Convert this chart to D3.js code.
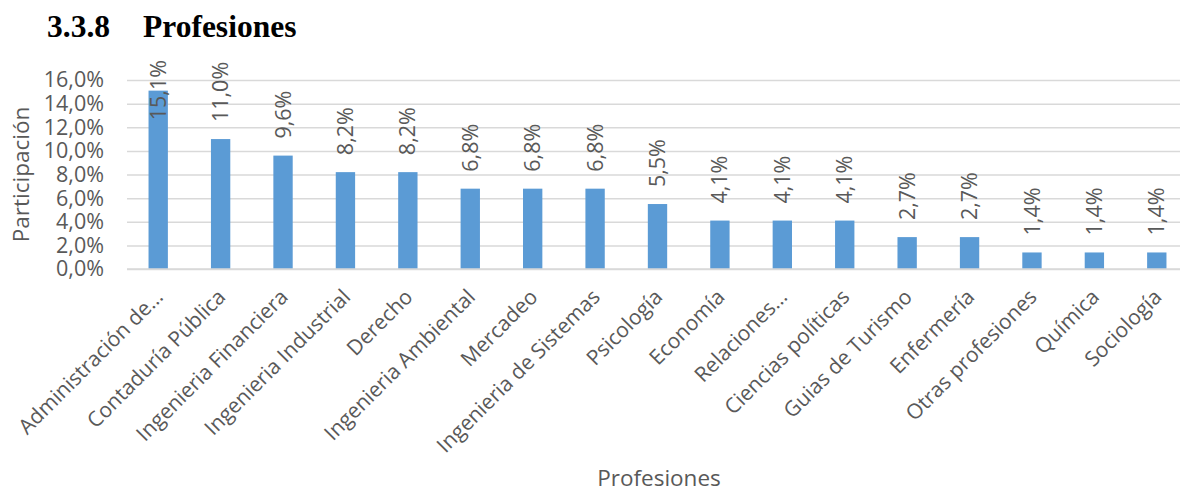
<!DOCTYPE html>
<html>
<head>
<meta charset="utf-8">
<script src="https://cdn.jsdelivr.net/npm/d3@7"></script>
<style>
  html, body { margin: 0; padding: 0; background: #fff; }
  svg { display: block; }
</style>
</head>
<body>
<svg id="chart" width="1180" height="494"></svg>
<script>
// Participación por profesión
const categories = [
  "Administración de…", "Contaduría Pública", "Ingenieria Financiera",
  "Ingenieria Industrial", "Derecho", "Ingenieria Ambiental", "Mercadeo",
  "Ingenieria de Sistemas", "Psicología", "Economía", "Relaciones…",
  "Ciencias políticas", "Guias de Turismo", "Enfermería",
  "Otras profesiones", "Química", "Sociología"
];
const values = [15.1, 11.0, 9.6, 8.2, 8.2, 6.8, 6.8, 6.8, 5.5, 4.1, 4.1, 4.1, 2.7, 2.7, 1.4, 1.4, 1.4];
const yTicks = [0, 2, 4, 6, 8, 10, 12, 14, 16];

const fmt = v => v.toFixed(1).replace(".", ",") + "%";

const svg = d3.select("#chart");
const textColor = "#595959";
const font = "'Open Sans', sans-serif";
const labelSize = 21.5;

const plot = { left: 127, right: 1188, top: 80, bottom: 269 };

const x = d3.scaleBand()
  .domain(categories)
  .range([plot.left, plot.right])
  .paddingInner(0.69)
  .paddingOuter(0.345);

const y = d3.scaleLinear()
  .domain([0, 16])
  .range([plot.bottom, plot.top]);

// Title
const titleFont = "'Liberation Serif', 'Times New Roman', serif";
svg.append("text")
  .attr("x", 47).attr("y", 37)
  .attr("font-family", titleFont)
  .attr("font-weight", "bold")
  .attr("font-size", 31.5)
  .attr("fill", "#000")
  .text("3.3.8");
svg.append("text")
  .attr("x", 143).attr("y", 37)
  .attr("font-family", titleFont)
  .attr("font-weight", "bold")
  .attr("font-size", 31.5)
  .attr("fill", "#000")
  .text("Profesiones");

// Gridlines and value axis
const yAxis = d3.axisLeft(y)
  .tickValues(yTicks)
  .tickSize(-(1180 - plot.left))
  .tickPadding(23)
  .tickFormat(fmt);

const gy = svg.append("g")
  .attr("transform", `translate(${plot.left},0)`)
  .call(yAxis);
gy.select(".domain").remove();
gy.selectAll(".tick line")
  .attr("stroke", "#d9d9d9")
  .attr("stroke-width", 1.5);
gy.selectAll(".tick text")
  .attr("fill", textColor)
  .attr("font-family", font)
  .attr("font-size", labelSize);

// Bars
svg.append("g")
  .selectAll("rect")
  .data(values)
  .join("rect")
  .attr("x", (d, i) => x(categories[i]))
  .attr("y", d => y(d))
  .attr("width", x.bandwidth())
  .attr("height", d => y(0) - y(d))
  .attr("fill", "#5b9bd5");

// Baseline
svg.append("line")
  .attr("x1", plot.left).attr("x2", 1180)
  .attr("y1", y(0)).attr("y2", y(0))
  .attr("stroke", "#d9d9d9")
  .attr("stroke-width", 1.5);

// Value labels, rotated, kept inside the chart area
const labelTop = 60;
svg.append("g")
  .selectAll("text")
  .data(values)
  .join("text")
  .attr("font-family", font)
  .attr("font-size", labelSize)
  .attr("fill", textColor)
  .attr("text-anchor", "start")
  .attr("dy", "0.35em")
  .text(d => fmt(d))
  .each(function (d, i) {
    const len = this.getComputedTextLength();
    const cx = x(categories[i]) + x.bandwidth() / 2;
    const base = Math.max(y(d) - 17, labelTop + len);
    d3.select(this).attr("transform", `translate(${cx},${base}) rotate(-90)`);
  });

// Category labels
const xAxis = d3.axisBottom(x).tickSize(0).tickPadding(0);
const gx = svg.append("g")
  .attr("transform", `translate(0,${plot.bottom})`)
  .call(xAxis);
gx.select(".domain").remove();
gx.selectAll(".tick text")
  .attr("fill", textColor)
  .attr("font-family", font)
  .attr("font-size", 21)
  .attr("text-anchor", "end")
  .attr("y", 0)
  .attr("dy", "0.35em")
  .attr("transform", "translate(1,24) rotate(-45)");

// Axis titles
svg.append("text")
  .attr("transform", `translate(29,${(plot.top + plot.bottom) / 2}) rotate(-90)`)
  .attr("text-anchor", "middle")
  .attr("font-family", font)
  .attr("font-size", 22.5)
  .attr("fill", textColor)
  .text("Participación");

svg.append("text")
  .attr("x", 659).attr("y", 486)
  .attr("text-anchor", "middle")
  .attr("font-family", font)
  .attr("font-size", 22.5)
  .attr("fill", textColor)
  .text("Profesiones");
</script>
</body>
</html>
